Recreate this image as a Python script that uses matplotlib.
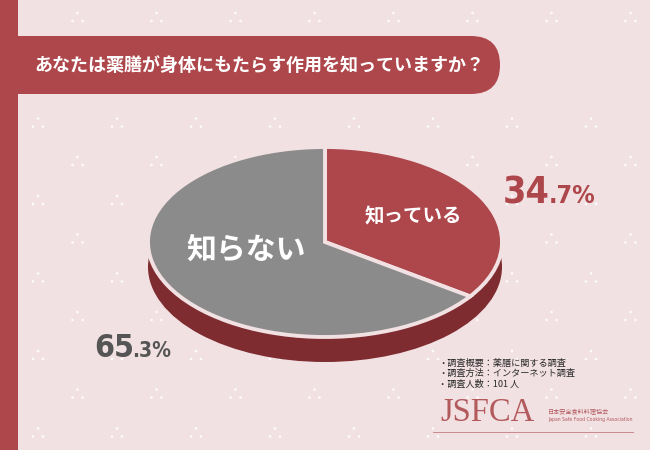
import matplotlib
matplotlib.use("Agg")
import matplotlib.pyplot as plt
from matplotlib import font_manager as fm
from matplotlib.patches import Ellipse, FancyBboxPatch, Rectangle, Circle

plt.rcParams["font.family"] = ["Noto Sans CJK JP", "DejaVu Sans"]

# データ
title = "あなたは薬膳が身体にもたらす作用を知っていますか？"
labels = ["知っている", "知らない"]
values = [34.7, 65.3]
notes = ["・調査概要：薬膳に関する調査", "・調査方法：インターネット調査", "・調査人数：101 人"]

# 色
bg = "#F2E1E3"
red = "#AE474B"
gray = "#8B8B8B"
dark = "#7E2C30"

# 数字用の細めのフォントを探す
narrow = None
for f in fm.fontManager.ttflist:
    if ("Narrow" in f.name or "Condensed" in f.name or f.stretch in ("condensed", "semi-condensed")) \
            and f.weight in ("bold", 700, 600, "semibold"):
        narrow = f.fname
        break
if narrow:
    num_prop = dict(fontproperties=fm.FontProperties(fname=narrow))
else:
    num_prop = dict(family="Noto Sans CJK JP", weight="bold")

fig = plt.figure(figsize=(6.5, 4.5), dpi=100, facecolor=bg)
ax = fig.add_axes([0, 0, 1, 1])
ax.set_xlim(0, 650)
ax.set_ylim(450, 0)
ax.axis("off")

# 背景の点模様
def dots(x, y):
    for dx, dy in [(0, -4), (-5, 4), (5, 4)]:
        ax.add_patch(Circle((x + dx, y + dy), 1.3, color="white", alpha=0.9, lw=0))

for c in range(9):
    dots(77.5 + 79 * c, 17)
for r in range(5):
    for c in range(9):
        dots(38 + 79 * c, 122.5 + 77.5 * r)
        dots(77.5 + 79 * c, 161 + 77.5 * r)

# タイトル帯
ax.add_patch(FancyBboxPatch((-60, 36), 560, 58, boxstyle="round,pad=0,rounding_size=29",
                            fc=red, ec="none"))
ax.add_patch(Rectangle((0, 0), 18, 450, fc=red, ec="none"))
ax.text(34, 65, title, color="white", fontsize=13, weight="bold", ha="left", va="center")

# 円グラフの側面
ax.add_patch(Ellipse((325, 267), 354, 190, fc=dark, ec="none"))

# 円グラフ本体
pax = fig.add_axes([148 / 650, (450 - 337) / 450, 354 / 650, 190 / 450])
pax.pie(values, colors=[red, gray], startangle=90, counterclock=False,
        wedgeprops=dict(edgecolor=bg, linewidth=2.8, clip_on=False))
pax.set_aspect("auto")
pax.set_xlim(-1, 1)
pax.set_ylim(-1, 1)
pax.text(0.497, 0.263, labels[0], color="white", fontsize=14, weight="bold",
         ha="center", va="center")
pax.text(-0.446, -0.084, labels[1], color="white", fontsize=21.5, weight="bold",
         ha="center", va="center")

# パーセント表示 (整数部を大きく、小数部を小さく)
def percent(x, y, v, col, big, small, gap):
    a, b = f"{v:.1f}".split(".")
    t = ax.text(x, y, a, color=col, fontsize=big, va="baseline", **num_prop)
    fig.canvas.draw()
    bb = t.get_window_extent()
    x1 = ax.transData.inverted().transform((bb.x1, bb.y0))[0]
    ax.text(x1 + gap, y, "." + b + "%", color=col, fontsize=small, va="baseline", **num_prop)

percent(503, 203, values[0], red, 27, 18, -1)
percent(94, 357, values[1], "#555555", 23, 15, -2)

# 調査概要
for i, line in enumerate(notes):
    ax.text(438, 363 + 10.5 * i, line, color="#2a2a2a", fontsize=6.6, va="center", ha="left")

# ロゴ
logo_col = "#B35A5D"
ax.text(440, 421, "JSFCA", color=logo_col, fontsize=23.5, family="Liberation Serif",
        ha="left", va="baseline")
ax.text(548, 411, "日本安全食料料理協会", color=logo_col, fontsize=4.4, ha="left", va="center")
ax.text(548, 420, "Japan Safe Food Cooking Association", color=logo_col, fontsize=3.3,
        family="DejaVu Sans", ha="left", va="center")
ax.plot([433, 633], [432, 432], color="#C98A8D", lw=0.7)

fig.savefig("out.png", dpi=100, facecolor=bg)
